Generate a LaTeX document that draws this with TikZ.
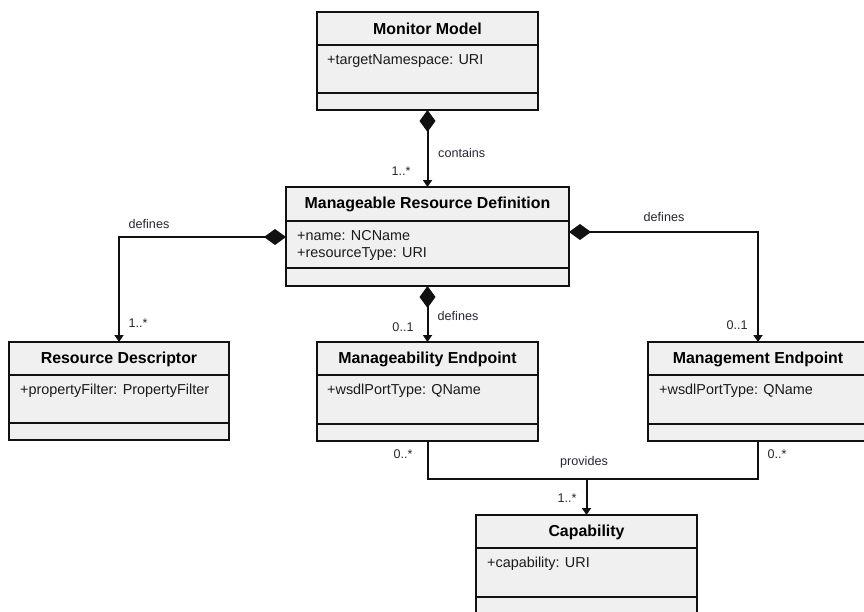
\documentclass[tikz,border=0pt]{standalone}
\usepackage{fontspec}
\setmainfont{Liberation Sans}
\usetikzlibrary{arrows.meta}
\definecolor{boxfill}{HTML}{F0F0F0}
\definecolor{linec}{HTML}{111111}
\definecolor{textc}{HTML}{1A1A1A}
\definecolor{lblc}{HTML}{262633}
\newcommand\ttlfont{\fontsize{15.9}{18}\selectfont\bfseries}
\newcommand\attfont{\fontsize{14.4}{17}\selectfont}
\newcommand\lblfont{\fontsize{12.6}{14}\selectfont}
\tikzset{
  cls/.style={draw=linec, fill=boxfill, line width=2pt, rectangle, inner sep=0pt, outer sep=0pt, anchor=north west},
  div/.style={draw=linec, line width=2pt},
  ttl/.style={font=\ttlfont, text=black, inner sep=0pt},
  att/.style={font=\attfont, text=textc, anchor=west, inner sep=0pt},
  lbl/.style={font=\lblfont, text=lblc, inner sep=0pt},
  conn/.style={draw=linec, line width=2pt},
  comp/.style={{Diamond[length=22pt,width=16pt]}-{Triangle[length=7pt,width=9pt]}},
  nav/.style={-{Triangle[length=7pt,width=9pt]}}
}
\begin{document}
\begin{tikzpicture}[x=1pt,y=-1pt]
\useasboundingbox (0,0) rectangle (864,611);
% Monitor Model
\node[cls, minimum width=221pt, minimum height=98pt] (mm) at (317,12) {};
\draw[div] (317,45) -- (538,45);
\draw[div] (317,93) -- (538,93);
\node[ttl] (mmt) at (427.5,29) {Monitor Model};
\node[att] (mma) at (327,61) {+targetNamespace: URI};
% Manageable Resource Definition
\node[cls, minimum width=283pt, minimum height=99pt] (mrd) at (286,187) {};
\draw[div] (286,221) -- (569,221);
\draw[div] (286,268) -- (569,268);
\node[ttl] (mrdt) at (427.5,204) {Manageable Resource Definition};
\node[att] (mrda) at (297,236) {+name: NCName};
\node[att] (mrdb) at (297,254) {+resourceType: URI};
% Resource Descriptor
\node[cls, minimum width=220pt, minimum height=98pt] (rd) at (9,342) {};
\draw[div] (9,375) -- (229,375);
\draw[div] (9,423) -- (229,423);
\node[ttl] (rdt) at (119,359) {Resource Descriptor};
\node[att] (rda) at (20,391) {+propertyFilter: PropertyFilter};
% Manageability Endpoint
\node[cls, minimum width=221pt, minimum height=99pt] (mbe) at (317,342) {};
\draw[div] (317,375) -- (538,375);
\draw[div] (317,424) -- (538,424);
\node[ttl] (mbet) at (427.5,359) {Manageability Endpoint};
\node[att] (mbea) at (327,391) {+wsdlPortType: QName};
% Management Endpoint
\node[cls, minimum width=220pt, minimum height=99pt] (mge) at (648,342) {};
\draw[div] (648,375) -- (868,375);
\draw[div] (648,424) -- (868,424);
\node[ttl] (mget) at (758,359) {Management Endpoint};
\node[att] (mgea) at (659,391) {+wsdlPortType: QName};
% Capability
\node[cls, minimum width=221pt, minimum height=100pt] (cap) at (476,515) {};
\draw[div] (476,548) -- (697,548);
\draw[div] (476,597) -- (697,597);
\node[ttl] (capt) at (586.5,532) {Capability};
\node[att] (capa) at (487,564) {+capability: URI};
% connectors
\draw[conn, comp] (mm.south) -- (mrd.north);
\draw[conn, comp] ([yshift=-0.5pt]mrd.west) -| (rd.north);
\draw[conn, comp] ([yshift=4.5pt]mrd.east) -| (mge.north);
\draw[conn, comp] (mrd.south) -- (mbe.north);
\coordinate (pl) at (427.5,479);
\coordinate (pr) at (758,479);
\coordinate (pm) at (586.5,479);
\draw[conn] (mbe.south) -- (pl) -- (pr) -- (mge.south);
\draw[conn, nav] (pm) -- (cap.north);
% labels
\node[lbl, anchor=west] (l1) at (438,153) {contains};
\node[lbl] (m1) at (401,171) {1..*};
\node[lbl] (l2) at (149,224) {defines};
\node[lbl] (m2) at (138,323) {1..*};
\node[lbl] (l3) at (664,217) {defines};
\node[lbl] (m3) at (737,325) {0..1};
\node[lbl] (l4) at (458,316) {defines};
\node[lbl] (m4) at (403,327) {0..1};
\node[lbl] (m5) at (403,454) {0..*};
\node[lbl] (m6) at (777,454) {0..*};
\node[lbl] (l5) at (584,462) {provides};
\node[lbl] (m7) at (567,498) {1..*};
\end{tikzpicture}
\end{document}
